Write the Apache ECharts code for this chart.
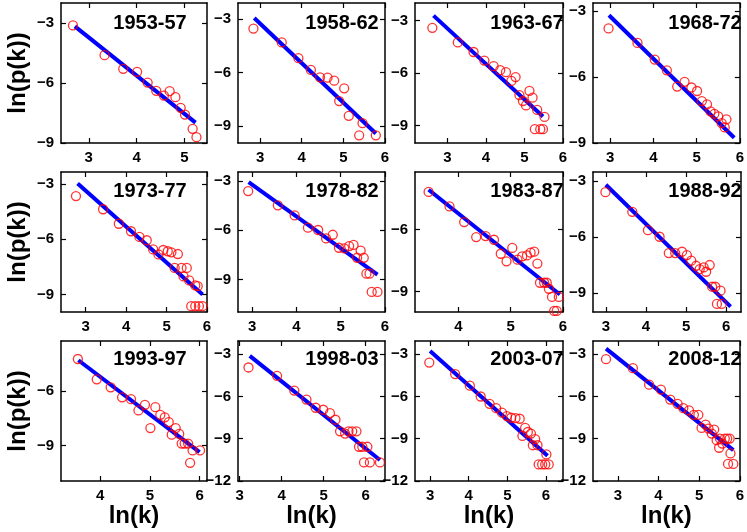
<!DOCTYPE html>
<html><head><meta charset="utf-8">
<script src="https://cdn.jsdelivr.net/npm/echarts@6/dist/echarts.min.js"></script>
<style>html,body{margin:0;padding:0;background:#fff}#c{width:747px;height:532px}</style>
</head><body><div id="c"></div>
<script>
const periods = ['1953-57','1958-62','1963-67','1968-72','1973-77','1978-82','1983-87','1988-92','1993-97','1998-03','2003-07','2008-12'];

const p1953 = [[2.67,-3.12],[3.33,-4.61],[3.72,-5.29],[4.01,-5.44],[4.23,-5.98],[4.41,-6.39],[4.57,-6.63],[4.69,-6.41],[4.81,-6.71],[4.92,-7.24],[5.01,-7.58],[5.17,-8.29],[5.25,-8.71]];
const p1958 = [[2.84,-3.53],[3.52,-4.31],[3.92,-5.19],[4.22,-5.85],[4.44,-6.26],[4.62,-6.28],[4.78,-6.45],[5.02,-6.88],[4.90,-7.59],[5.13,-8.42],[5.46,-8.83],[5.38,-9.51],[5.78,-9.51]];
const p1963 = [[2.61,-3.42],[3.27,-4.25],[3.68,-4.80],[3.96,-5.29],[4.20,-5.61],[4.37,-5.84],[4.52,-5.95],[4.66,-6.45],[4.77,-6.23],[4.87,-7.26],[4.96,-7.60],[5.04,-7.85],[5.13,-7.02],[5.21,-7.41],[5.33,-8.11],[5.52,-8.51],[5.27,-9.21],[5.41,-9.21],[5.48,-9.21]];
const p1968 = [[2.96,-3.78],[3.63,-4.44],[4.03,-5.20],[4.31,-5.69],[4.55,-6.43],[4.72,-6.21],[4.88,-6.47],[5.01,-6.63],[5.12,-7.09],[5.24,-7.24],[5.32,-7.56],[5.41,-7.67],[5.50,-7.79],[5.58,-8.09],[5.65,-8.29],[5.69,-7.92]];
const p1973 = [[2.76,-3.64],[3.43,-4.36],[3.82,-5.15],[4.12,-5.56],[4.33,-5.87],[4.51,-6.05],[4.67,-6.55],[4.80,-6.82],[4.92,-6.58],[5.03,-6.65],[5.12,-6.71],[5.28,-6.80],[5.20,-7.56],[5.37,-7.56],[5.50,-7.56],[5.42,-8.02],[5.56,-8.24],[5.71,-8.51],[5.77,-8.55],[5.61,-9.64],[5.71,-9.64],[5.80,-9.64],[5.89,-9.64]];
const p1978 = [[2.91,-3.61],[3.58,-4.48],[3.96,-5.09],[4.26,-5.84],[4.49,-5.98],[4.67,-6.49],[4.82,-6.27],[4.96,-7.06],[5.08,-7.10],[5.19,-6.96],[5.29,-6.89],[5.37,-7.67],[5.45,-7.24],[5.52,-7.67],[5.58,-8.64],[5.65,-8.64],[5.70,-9.75],[5.83,-9.75]];
const p1983 = [[3.43,-4.17],[3.83,-4.87],[4.11,-5.63],[4.34,-6.36],[4.52,-6.31],[4.68,-6.49],[4.81,-7.17],[4.92,-7.54],[5.03,-6.89],[5.13,-7.46],[5.22,-7.30],[5.31,-7.25],[5.38,-7.12],[5.45,-7.07],[5.51,-7.65],[5.56,-8.58],[5.64,-8.58],[5.69,-8.58],[5.73,-8.87],[5.79,-9.27],[5.92,-9.27],[5.83,-9.95],[5.88,-9.95]];
const p1988 = [[2.99,-3.60],[3.66,-4.65],[4.05,-5.63],[4.34,-5.98],[4.57,-6.85],[4.73,-6.85],[4.90,-6.78],[5.02,-6.96],[5.13,-7.26],[5.25,-7.53],[5.34,-7.71],[5.44,-7.62],[5.50,-7.85],[5.59,-7.49],[5.65,-8.65],[5.73,-8.65],[5.86,-8.86],[5.77,-9.57],[5.89,-9.57]];
const p1993 = [[3.55,-4.24],[3.93,-5.36],[4.21,-5.80],[4.44,-6.35],[4.62,-6.45],[4.77,-7.07],[4.90,-6.76],[5.01,-8.04],[5.11,-6.89],[5.21,-7.31],[5.30,-7.45],[5.38,-7.71],[5.44,-8.40],[5.52,-8.04],[5.59,-8.36],[5.64,-8.89],[5.70,-8.89],[5.77,-8.89],[5.86,-9.27],[6.01,-9.27],[5.81,-9.95]];
const p1998 = [[3.21,-3.94],[3.89,-4.53],[4.30,-5.58],[4.59,-6.22],[4.81,-6.80],[4.99,-6.94],[5.15,-7.18],[5.28,-7.65],[5.39,-8.47],[5.51,-8.63],[5.59,-8.47],[5.68,-8.47],[5.78,-8.47],[5.84,-9.57],[5.92,-9.57],[6.04,-9.57],[5.96,-10.68],[6.10,-10.68],[6.34,-10.68]];
const p2003 = [[2.98,-3.59],[3.65,-4.41],[4.03,-5.23],[4.31,-6.00],[4.54,-6.52],[4.71,-6.83],[4.86,-7.15],[4.99,-7.39],[5.10,-7.51],[5.21,-7.53],[5.32,-7.58],[5.39,-8.80],[5.46,-8.23],[5.53,-8.52],[5.61,-8.63],[5.72,-9.03],[5.78,-9.46],[5.66,-9.46],[6.01,-10.11],[5.81,-10.82],[5.90,-10.82],[5.98,-10.82],[6.07,-10.82]];
const p2008 = [[2.71,-3.35],[3.37,-3.99],[3.77,-5.16],[4.06,-5.51],[4.29,-6.22],[4.47,-6.52],[4.61,-6.83],[4.75,-6.99],[4.87,-7.30],[4.98,-7.30],[5.06,-8.23],[5.16,-8.00],[5.23,-8.28],[5.31,-8.63],[5.37,-8.35],[5.43,-9.10],[5.51,-8.99],[5.49,-9.64],[5.57,-9.34],[5.63,-8.99],[5.69,-8.99],[5.75,-8.99],[5.77,-10.04],[5.71,-10.79],[5.84,-10.79]];
const points = [p1953,p1958,p1963,p1968,p1973,p1978,p1983,p1988,p1993,p1998,p2003,p2008];

// fitted line endpoints [[x0,y0],[x1,y1]]
const fitLines = [
  [[2.71,-3.17],[5.23,-7.98]],
  [[2.86,-2.94],[5.78,-9.41]],
  [[2.64,-2.72],[5.48,-8.49]],
  [[2.97,-3.18],[5.87,-8.76]],
  [[2.80,-2.96],[5.89,-9.00]],
  [[2.92,-3.06],[5.83,-8.70]],
  [[3.43,-4.06],[5.94,-9.15]],
  [[3.00,-3.20],[6.11,-9.71]],
  [[3.56,-4.31],[6.00,-9.36]],
  [[3.24,-3.12],[6.34,-10.51]],
  [[3.00,-2.77],[6.04,-10.21]],
  [[2.71,-2.60],[5.84,-9.81]]
];

const xRanges = [[2.42,5.47],[2.47,6.0],[2.16,6.0],[2.6,6.0],[2.39,6.0],[2.68,6.0],[3.17,6.0],[2.68,6.37],[3.21,6.15],[2.96,6.46],[2.61,6.44],[2.39,6.0]];
const yRanges = [[-9,-2.0],[-9.94,-2.1],[-10,-2.0],[-9,-2.62],[-9.96,-2.33],[-10.97,-2.45],[-10,-3.2],[-10,-2.52],[-10.95,-3.25],[-12,-2.06],[-12,-2.06],[-12,-2.06]];
const xTickVals = [[3,4,5],[3,4,5,6],[3,4,5,6],[3,4,5,6],[3,4,5,6],[3,4,5,6],[4,5,6],[3,4,5,6],[4,5,6],[3,4,5,6],[3,4,5,6],[3,4,5,6]];
const yTickVals = [[-3,-6,-9],[-3,-6,-9],[-3,-6,-9],[-3,-6,-9],[-3,-6,-9],[-3,-6,-9],[-6,-9],[-3,-6,-9],[-6,-9],[-3,-6,-9,-12],[-3,-6,-9,-12],[-3,-6,-9,-12]];

const xName = 'ln(k)';
const yName = 'ln(p(k))';

// layout
const colLeft = [61,238,415,593], colWidth = [146,147,148,148];
const rowTop = [3,172,341], rowH = 140;
const titleCX = [150,342,527,705], titleCY = [23,191,359];

const fmt = v => v < 0 ? '\u2212' + Math.abs(v) : String(v);
const lineStyleAx = {color:'#000', width:1.5};
const tickStyle = {color:'#000', width:1.2};
const labelFont = {fontFamily:'Liberation Sans, Arial, sans-serif', fontWeight:'bold', fontSize:15, color:'#000'};
const nameFont = {fontFamily:'Liberation Sans, Arial, sans-serif', fontWeight:'bold', fontSize:24, color:'#000'};

const grids=[], xAxes=[], yAxes=[], series=[], graphics=[];
points.forEach((pts,i)=>{
  const r = Math.floor(i/4), c = i%4;
  grids.push({left:colLeft[c], top:rowTop[r], width:colWidth[c], height:rowH, show:false});
  const xr = xRanges[i], yr = yRanges[i], xt = xTickVals[i], yt = yTickVals[i];
  const xb = {type:'value', gridIndex:i, min:xr[0], max:xr[1], splitLine:{show:false},
    axisLine:{show:true, onZero:false, lineStyle:lineStyleAx}};
  const yb = {type:'value', gridIndex:i, min:yr[0], max:yr[1], splitLine:{show:false},
    axisLine:{show:true, onZero:false, lineStyle:lineStyleAx}};
  xAxes.push(Object.assign({}, xb, {position:'bottom',
    axisTick:{show:true, inside:true, length:5, lineStyle:tickStyle, customValues:xt},
    axisLabel:Object.assign({show:true, margin:7, customValues:xt, formatter:fmt, showMinLabel:true, showMaxLabel:true}, labelFont),
    name: r===2 ? xName : '', nameLocation:'middle', nameGap:22, nameTextStyle:nameFont
  }));
  xAxes.push(Object.assign({}, xb, {position:'top',
    axisTick:{show:true, inside:true, length:5, lineStyle:tickStyle, customValues:xt},
    axisLabel:{show:false}}));
  yAxes.push(Object.assign({}, yb, {position:'left',
    axisTick:{show:true, inside:true, length:5, lineStyle:tickStyle, customValues:yt},
    axisLabel:Object.assign({show:true, margin:7, customValues:yt, formatter:fmt, showMinLabel:true, showMaxLabel:true}, labelFont),
    name: c===0 ? yName : '', nameLocation:'middle', nameGap:31, nameRotate:90, nameTextStyle:nameFont
  }));
  yAxes.push(Object.assign({}, yb, {position:'right',
    axisTick:{show:true, inside:true, length:5, lineStyle:tickStyle, customValues:yt},
    axisLabel:{show:false}}));
  series.push({type:'line', xAxisIndex:2*i, yAxisIndex:2*i, data:fitLines[i], symbol:'none',
    lineStyle:{color:'#0000ff', width:4}, z:2, silent:true, animation:false});
  series.push({type:'scatter', xAxisIndex:2*i, yAxisIndex:2*i, data:pts, symbol:'circle', symbolSize:9,
    itemStyle:{color:'rgba(0,0,0,0)', borderColor:'#ff0000', borderWidth:1.3}, z:3, animation:false});
  graphics.push({type:'text', x:titleCX[c], y:titleCY[r], z:10,
    style:{text:periods[i], align:'center', verticalAlign:'middle', textAlign:'center', textVerticalAlign:'middle',
      font:'bold 20px "Liberation Sans", Arial, sans-serif', fill:'#000'}});
});

const chart = echarts.init(document.getElementById('c'), null, {renderer:'canvas'});
chart.setOption({animation:false, backgroundColor:'#fff', grid:grids, xAxis:xAxes, yAxis:yAxes, series:series, graphic:graphics});
</script></body></html>
